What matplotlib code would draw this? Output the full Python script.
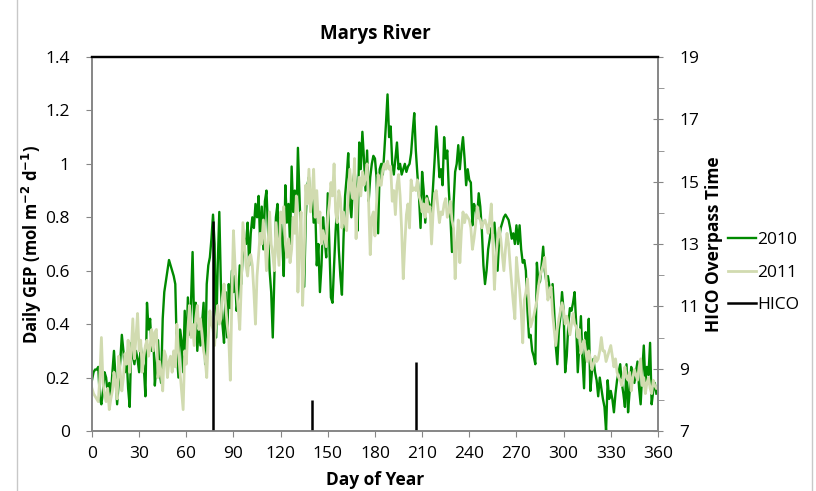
import matplotlib.pyplot as plt
from matplotlib.lines import Line2D

# Daily GEP, one value per day, days 0..359
gep_2010 = [
    0.19, 0.22, 0.23, 0.23, 0.24, 0.12, 0.10, 0.15, 0.22, 0.20,
    0.14, 0.18, 0.13, 0.22, 0.30, 0.20, 0.10, 0.18, 0.26, 0.36,
    0.30, 0.22, 0.28, 0.16, 0.09, 0.33, 0.28, 0.25, 0.30, 0.27,
    0.22, 0.32, 0.26, 0.24, 0.13, 0.48, 0.38, 0.42, 0.30, 0.36,
    0.17, 0.25, 0.34, 0.22, 0.18, 0.42, 0.52, 0.56, 0.60, 0.64,
    0.62, 0.60, 0.58, 0.55, 0.30, 0.20, 0.38, 0.34, 0.22, 0.45,
    0.28, 0.50, 0.36, 0.48, 0.67, 0.40, 0.48, 0.30, 0.40, 0.32,
    0.40, 0.48, 0.25, 0.55, 0.62, 0.65, 0.72, 0.81, 0.70, 0.35,
    0.62, 0.82, 0.55, 0.40, 0.33, 0.52, 0.35, 0.55, 0.46, 0.60,
    0.52, 0.58, 0.45, 0.50, 0.62, 0.55, 0.68, 0.72, 0.70, 0.78,
    0.62, 0.74, 0.80, 0.76, 0.85, 0.80, 0.88, 0.70, 0.84, 0.68,
    0.86, 0.90, 0.75, 0.60, 0.52, 0.35, 0.58, 0.80, 0.85, 0.72,
    0.80, 0.72, 0.58, 0.92, 0.78, 0.85, 0.70, 0.99, 0.82, 0.90,
    0.75, 1.06, 0.88, 0.70, 0.62, 0.54, 0.80, 0.92, 0.95, 0.85,
    0.90, 0.78, 0.84, 0.62, 0.70, 0.52, 0.62, 0.80, 0.72, 0.65,
    0.89, 0.70, 0.50, 0.48, 0.62, 0.75, 0.85, 0.68, 0.58, 0.51,
    0.72, 0.88, 0.95, 1.04, 0.86, 0.80, 0.92, 0.98, 0.90, 0.75,
    1.08, 0.98, 1.12, 1.02, 0.90, 1.05, 0.86, 0.95, 1.00, 1.03,
    1.02, 0.95, 0.74, 0.98, 1.00, 0.96, 1.05, 1.15, 1.26, 1.10,
    1.14, 1.00, 0.96, 1.02, 1.08, 0.98, 1.00, 0.96, 0.98, 1.00,
    0.97, 0.99, 1.00, 1.04, 1.12, 1.19, 1.05, 0.96, 0.88, 0.76,
    0.97, 0.90, 0.78, 0.88, 0.86, 0.84, 0.82, 0.92, 1.02, 1.14,
    1.05, 0.95, 0.98, 0.92, 1.10, 1.02, 1.05, 0.90, 0.80, 0.67,
    0.85, 0.97, 1.00, 1.07, 0.98, 1.05, 1.10, 1.02, 0.92, 0.98,
    0.94, 0.93, 0.77, 0.85, 0.83, 0.80, 0.89, 0.84, 0.75, 0.62,
    0.55, 0.60, 0.68, 0.72, 0.76, 0.74, 0.78, 0.70, 0.60, 0.72,
    0.76, 0.78, 0.80, 0.81, 0.80, 0.79, 0.76, 0.72, 0.74, 0.70,
    0.77, 0.70, 0.77, 0.68, 0.63, 0.64, 0.60, 0.45, 0.35, 0.36,
    0.30, 0.28, 0.25, 0.63, 0.55, 0.56, 0.62, 0.69, 0.60, 0.56,
    0.58, 0.54, 0.50, 0.55, 0.45, 0.32, 0.25, 0.38, 0.43, 0.52,
    0.45, 0.22, 0.28, 0.40, 0.46, 0.45, 0.48, 0.52, 0.40, 0.22,
    0.32, 0.43, 0.27, 0.16, 0.37, 0.30, 0.42, 0.15, 0.22, 0.27,
    0.22, 0.19, 0.13, 0.20, 0.16, 0.12, 0.09, 0.00, 0.19, 0.12,
    0.15, 0.12, 0.07, 0.14, 0.19, 0.22, 0.25, 0.18, 0.14, 0.09,
    0.25, 0.07, 0.15, 0.24, 0.20, 0.18, 0.22, 0.26, 0.16, 0.10,
    0.22, 0.32, 0.18, 0.24, 0.21, 0.33, 0.10, 0.15, 0.18, 0.14,
]

gep_2011 = [
    0.16, 0.14, 0.13, 0.12, 0.11, 0.20, 0.35, 0.18, 0.14, 0.11,
    0.16, 0.08, 0.12, 0.15, 0.22, 0.18, 0.12, 0.28, 0.22, 0.15,
    0.20, 0.29, 0.25, 0.34, 0.22, 0.30, 0.42, 0.27, 0.35, 0.44,
    0.30, 0.34, 0.22, 0.28, 0.32, 0.34, 0.28, 0.32, 0.38, 0.30,
    0.37, 0.38, 0.20, 0.26, 0.22, 0.15, 0.30, 0.28, 0.20, 0.26,
    0.28, 0.22, 0.30, 0.24, 0.40, 0.30, 0.22, 0.15, 0.08, 0.30,
    0.25, 0.38, 0.47, 0.35, 0.40, 0.32, 0.42, 0.47, 0.38, 0.42,
    0.36, 0.30, 0.27, 0.20, 0.35, 0.45, 0.40, 0.38, 0.32, 0.42,
    0.47, 0.40, 0.42, 0.50, 0.55, 0.47, 0.40, 0.35, 0.19, 0.50,
    0.75, 0.62, 0.53, 0.46, 0.38, 0.55, 0.78, 0.70, 0.62, 0.58,
    0.65, 0.66, 0.62, 0.52, 0.40, 0.58, 0.66, 0.74, 0.70, 0.79,
    0.72, 0.60, 0.70, 0.82, 0.70, 0.66, 0.60, 0.78, 0.70, 0.62,
    0.82, 0.78, 0.84, 0.70, 0.65, 0.72, 0.63, 0.68, 0.80, 0.74,
    0.88, 0.52, 0.70, 0.82, 0.47, 0.66, 0.92, 0.85, 0.98, 0.82,
    0.88, 0.98, 0.80, 0.90, 0.78, 0.82, 0.70, 0.75, 0.72, 0.69,
    0.80, 0.85, 0.93, 0.88, 1.00, 0.82, 0.78, 0.90, 0.87, 0.76,
    0.82, 0.78, 0.75, 0.88, 0.98, 0.90, 0.87, 1.02, 0.72, 0.90,
    0.95, 0.88, 0.97, 0.92, 0.95, 1.00, 0.85, 0.66, 0.80, 0.82,
    0.73, 0.85, 0.96, 0.92, 0.92, 0.98, 1.00, 0.98, 1.01, 0.98,
    0.99, 0.86, 0.90, 0.81, 0.92, 0.96, 0.88, 0.75, 0.57, 0.70,
    0.81, 0.85, 0.76, 0.94, 0.90, 0.91, 0.90, 0.94, 0.88, 0.86,
    0.82, 0.85, 0.80, 0.87, 0.82, 0.84, 0.70, 0.82, 0.89, 0.90,
    0.84, 0.78, 0.82, 0.81, 0.85, 0.87, 0.80, 0.82, 0.86, 0.79,
    0.76, 0.57, 0.70, 0.79, 0.63, 0.75, 0.82, 0.78, 0.81, 0.80,
    0.79, 0.76, 0.68, 0.72, 0.77, 0.84, 0.80, 0.79, 0.76, 0.78,
    0.79, 0.77, 0.74, 0.79, 0.85, 0.70, 0.53, 0.65, 0.72, 0.76,
    0.72, 0.66, 0.60, 0.68, 0.74, 0.70, 0.62, 0.55, 0.48, 0.42,
    0.65, 0.58, 0.53, 0.45, 0.33, 0.49, 0.52, 0.57, 0.48, 0.39,
    0.41, 0.43, 0.46, 0.49, 0.54, 0.58, 0.60, 0.62, 0.65, 0.56,
    0.49, 0.52, 0.54, 0.44, 0.38, 0.32, 0.38, 0.42, 0.45, 0.48,
    0.45, 0.40, 0.43, 0.40, 0.36, 0.40, 0.44, 0.40, 0.39, 0.35,
    0.38, 0.29, 0.32, 0.34, 0.30, 0.26, 0.30, 0.27, 0.23, 0.25,
    0.28, 0.26, 0.27, 0.30, 0.35, 0.30, 0.30, 0.26, 0.28, 0.30,
    0.32, 0.28, 0.24, 0.27, 0.22, 0.20, 0.19, 0.17, 0.21, 0.24,
    0.20, 0.19, 0.22, 0.15, 0.20, 0.23, 0.21, 0.19, 0.24, 0.27,
    0.17, 0.20, 0.14, 0.18, 0.20, 0.16, 0.14, 0.19, 0.17, 0.16,
]

# HICO overpasses: day of year and overpass time (hour)
hico_days = [77, 140, 206]
hico_time = [13.75, 8.0, 9.2]

x_ticks = [0, 30, 60, 90, 120, 150, 180, 210, 240, 270, 300, 330, 360]
left_ticks = [0, 0.2, 0.4, 0.6, 0.8, 1, 1.2, 1.4]
left_labels = ['0', '0.2', '0.4', '0.6', '0.8', '1', '1.2', '1.4']
right_ticks = [7, 9, 11, 13, 15, 17, 19]

plt.rcParams['font.family'] = ['Open Sans', 'DejaVu Sans']
grey = '#868686'

fig = plt.figure(figsize=(8.16, 4.91), dpi=100)
ax = fig.add_axes([0.1127, 0.1222, 0.6936, 0.7617])

days = list(range(len(gep_2010)))
l1, = ax.plot(days, gep_2010, color='#008a00', lw=1.7, label='2010')
l2, = ax.plot(list(range(len(gep_2011))), gep_2011, color='#d1dbb0', lw=2.0, label='2011')

ax.set_xlim(0, 360)
ax.set_ylim(0, 1.4)
ax.set_xticks(x_ticks)
ax.set_yticks(left_ticks)
ax.set_yticklabels(left_labels)
ax.tick_params(axis='both', direction='out', length=4, color=grey, labelsize=12.5)
ax.tick_params(axis='y', pad=12)
ax.tick_params(axis='x', pad=7)

ax2 = ax.twinx()
ax2.vlines(hico_days, 7, hico_time, color='black', lw=1.8)
l3 = Line2D([], [], color='black', lw=1.8, label='HICO')
ax2.set_ylim(7, 19)
ax2.set_yticks(right_ticks)
ax2.set_yticks([8, 10, 12, 14, 16, 18], minor=True)
ax2.tick_params(axis='y', which='major', direction='inout', length=7, color=grey, labelsize=12.5, pad=12)
ax2.tick_params(axis='y', which='minor', direction='out', length=4, color=grey)

for a in (ax, ax2):
    for side in ('left', 'right', 'bottom'):
        a.spines[side].set_color(grey)
        a.spines[side].set_linewidth(1.2)
    a.spines['top'].set_color('black')
    a.spines['top'].set_linewidth(1.6)

ax.set_title('Marys River', fontsize=13.5, fontweight='bold', pad=13)
ax.set_xlabel('Day of Year', fontsize=12.5, fontweight='bold', labelpad=6)
ax.set_ylabel('Daily GEP (mol m$^{\\mathbf{-2}}$ d$^{\\mathbf{-1}}$)', fontsize=12, fontweight='bold')
ax.yaxis.set_label_coords(-0.084, 0.5)
ax2.set_ylabel('HICO Overpass Time', fontsize=12.5, fontweight='bold', labelpad=4)

fig.legend(handles=[l1, l2, l3], loc='center left', bbox_to_anchor=(0.873, 0.445),
           frameon=False, fontsize=12.5, handlelength=1.6, handletextpad=0.1, labelspacing=0.95)

# chart area border lines at the image edges
fig.add_artist(Line2D([0.021, 0.021], [0, 1], color='#c8c8c8', lw=1))
fig.add_artist(Line2D([0.995, 0.995], [0, 1], color='#c8c8c8', lw=1))

fig.savefig('out.png', dpi=100)
